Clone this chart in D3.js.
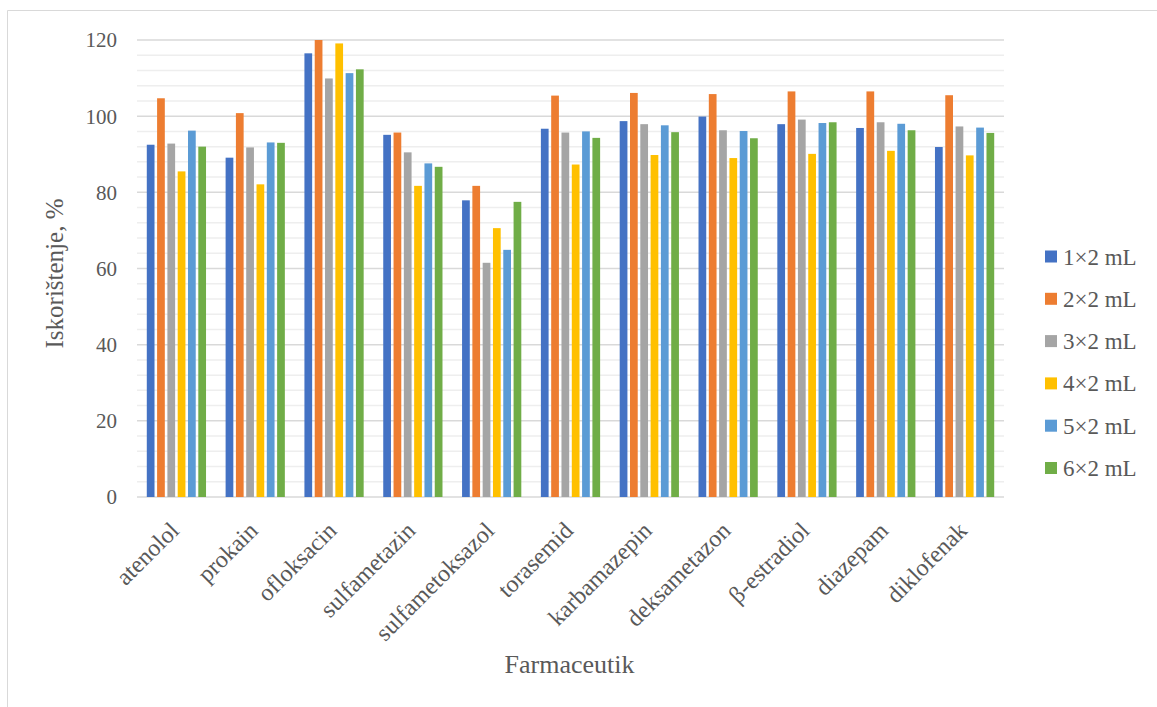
<!DOCTYPE html>
<html><head><meta charset="utf-8">
<script src="https://cdn.jsdelivr.net/npm/d3@7"></script>
<style>body{margin:0;background:#fff}svg{display:block}text{font-family:"Liberation Serif","Times New Roman",serif;fill:#595959}</style>
</head><body><svg id="c" width="1157" height="707"></svg>
<script>
const categories = ["atenolol","prokain","ofloksacin","sulfametazin","sulfametoksazol","torasemid","karbamazepin","deksametazon","β-estradiol","diazepam","diklofenak"];
const seriesNames = ["1×2 mL","2×2 mL","3×2 mL","4×2 mL","5×2 mL","6×2 mL"];
const s1 = [92.5, 89.1, 116.5, 95.1, 77.9, 96.7, 98.7, 99.9, 97.9, 96.9, 91.9];
const s2 = [104.7, 100.8, 120.0, 95.7, 81.7, 105.4, 106.1, 105.8, 106.5, 106.5, 105.5];
const s3 = [92.8, 91.8, 109.9, 90.5, 61.5, 95.7, 97.9, 96.3, 99.1, 98.4, 97.3];
const s4 = [85.5, 82.1, 119.1, 81.7, 70.6, 87.3, 89.8, 89.0, 90.1, 90.9, 89.7];
const s5 = [96.2, 93.1, 111.3, 87.6, 64.9, 96.0, 97.6, 96.1, 98.2, 98.0, 97.0];
const s6 = [92.0, 93.0, 112.3, 86.7, 77.5, 94.3, 95.8, 94.2, 98.4, 96.3, 95.6];
const yTicks = [0, 20, 40, 60, 80, 100, 120];
const colors = ["#4472C4","#ED7D31","#A5A5A5","#FFC000","#5B9BD5","#70AD47"];
const seriesValues = [s1, s2, s3, s4, s5, s6];

const svg = d3.select("#c");
// outer chart border
svg.append("path").attr("d","M7.5,707 V10.5 H1157").attr("fill","none").attr("stroke","#d9d9d9").attr("stroke-width",1);

const L = 137, R = 1004, T = 40, B = 497;
const x0 = d3.scaleBand().domain(categories).range([L, R]).paddingInner(0).paddingOuter(0);
const bw = x0.bandwidth();
const x1 = d3.scaleBand().domain(seriesNames).range([8.5, bw - 8.5]).paddingInner(0.25).paddingOuter(0.125);
const y = d3.scaleLinear().domain([0, 120]).range([B, T]);

// minor grid
const minor = d3.range(0, 121, 4).filter(v => v % 20 !== 0);
svg.append("g").selectAll("line").data(minor).join("line")
  .attr("x1", L).attr("x2", R).attr("y1", d => y(d)).attr("y2", d => y(d))
  .attr("stroke", "#eeeeee").attr("stroke-width", 1.5);
svg.append("g").selectAll("line").data(yTicks).join("line")
  .attr("x1", L).attr("x2", R).attr("y1", d => y(d)).attr("y2", d => y(d))
  .attr("stroke", "#d9d9d9").attr("stroke-width", 1.5);

// y tick labels
svg.append("g").selectAll("text").data(yTicks).join("text")
  .attr("x", 117).attr("y", d => y(d)).attr("dy", "0.35em")
  .attr("text-anchor", "end").attr("font-size", 21).text(d => d);

// bars
const g = svg.append("g");
seriesValues.forEach((vals, si) => {
  g.append("g").selectAll("rect").data(vals).join("rect")
    .attr("x", (d, i) => x0(categories[i]) + x1(seriesNames[si]))
    .attr("width", x1.bandwidth())
    .attr("y", d => y(Math.min(d, 120)))
    .attr("height", d => y(0) - y(Math.min(d, 120)))
    .attr("fill", colors[si]);
});

// category labels
svg.append("g").selectAll("text").data(categories).join("text")
  .attr("transform", d => `translate(${x0(d) + bw / 2 - 2},${B + 29}) rotate(-45)`)
  .attr("text-anchor", "end").attr("dy", "0.35em").attr("font-size", 24).text(d => d);

// axis titles
svg.append("text").attr("x", (L + R) / 2 - 1).attr("y", 673).attr("text-anchor", "middle")
  .attr("font-size", 26).text("Farmaceutik");
svg.append("text").attr("transform", `translate(54,${(T + B) / 2 + 5}) rotate(-90)`)
  .attr("text-anchor", "middle").attr("dy", "0.35em").attr("font-size", 25).text("Iskorištenje, %");

// legend
const lg = svg.append("g");
seriesNames.forEach((n, i) => {
  const cy = 256.5 + i * 42.3;
  lg.append("rect").attr("x", 1045).attr("y", cy - 6).attr("width", 12).attr("height", 12).attr("fill", colors[i]);
  lg.append("text").attr("x", 1063).attr("y", cy).attr("dy", "0.35em").attr("font-size", 23).text(n);
});
</script></body></html>
